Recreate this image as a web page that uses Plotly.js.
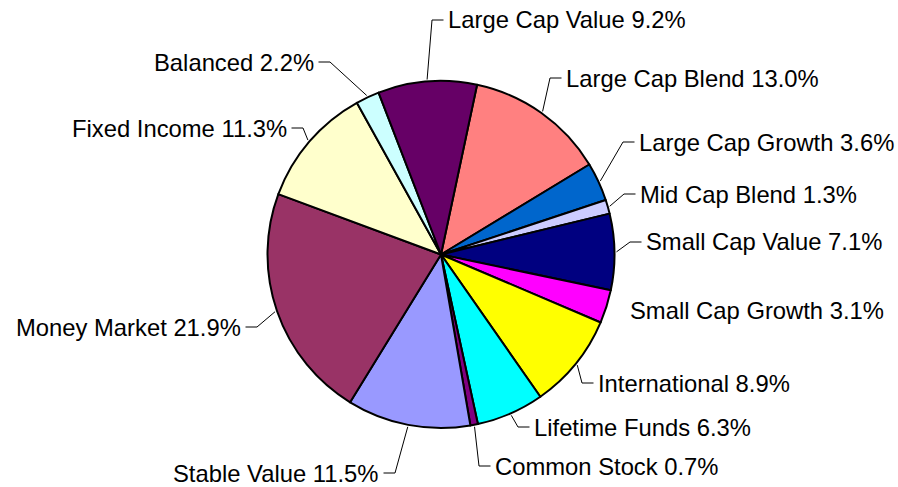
<!DOCTYPE html>
<html><head><meta charset="utf-8">
<script src="https://cdn.plot.ly/plotly-3.0.1.min.js"></script>
<style>html,body{margin:0;padding:0;background:#fff}#chart{width:898px;height:487px}</style>
</head><body><div id="chart"></div>
<script>
const categories = ['Large Cap Blend','Large Cap Growth','Mid Cap Blend','Small Cap Value','Small Cap Growth','International','Lifetime Funds','Common Stock','Stable Value','Money Market','Fixed Income','Balanced','Large Cap Value'];
const percents = [13.0,3.6,1.3,7.1,3.1,8.9,6.3,0.7,11.5,21.9,11.3,2.2,9.2];
const colors = ['#FF8080','#0066CC','#CCCCFF','#000080','#FF00FF','#FFFF00','#00FFFF','#800080','#9999FF','#993366','#FFFFCC','#CCFFFF','#660066'];
// label anchor positions in px (text start on right side, text end on left side)
const labelPos = [[565,78],[638,142],[639,194],[645,242],[629,310],[597,383],[533,427],[494,466],[380,473],[242,327],[288,128],[315,62],[447,20]];
const showLeader = [true,true,true,true,false,true,true,true,true,true,true,true,true];

const W = 898, H = 487;
const CX = 441, CY = 254.5, R = 173.5, ROT = 12;
const FONT = 'Liberation Sans, Arial, sans-serif';
const FS = 23.8;

const px2x = p => p / W;
const px2y = p => 1 - p / H;

const total = percents.reduce((a, b) => a + b, 0);
const shapes = [];
const annotations = [];
let cum = 0;
percents.forEach((v, i) => {
  const mid = (ROT + (cum + v / 2) / total * 360) * Math.PI / 180;
  cum += v;
  const ex = CX + (R + 2) * Math.sin(mid);
  const ey = CY - (R + 2) * Math.cos(mid);
  const [tx, ty] = labelPos[i];
  const right = tx > CX;
  const elbowX = right ? tx - 15 : tx + 15;
  const endX = right ? tx - 3.5 : tx + 3.5;
  if (showLeader[i]) {
    shapes.push({type: 'line', xref: 'paper', yref: 'paper',
      x0: px2x(ex), y0: px2y(ey), x1: px2x(elbowX), y1: px2y(ty),
      line: {color: '#000', width: 1}});
    shapes.push({type: 'line', xref: 'paper', yref: 'paper',
      x0: px2x(elbowX), y0: px2y(ty), x1: px2x(endX), y1: px2y(ty),
      line: {color: '#000', width: 1}});
  }
  annotations.push({xref: 'paper', yref: 'paper', x: px2x(tx), y: px2y(ty),
    xanchor: right ? 'left' : 'right', yanchor: 'middle', showarrow: false,
    text: categories[i] + ' ' + v.toFixed(1) + '%',
    font: {family: FONT, size: FS, color: '#000'}, borderpad: 0});
});

const trace = {
  type: 'pie', labels: categories, values: percents, sort: false,
  direction: 'clockwise', rotation: ROT, textinfo: 'none', hoverinfo: 'none',
  marker: {colors: colors, line: {color: '#000', width: 2}},
  domain: {x: [px2x(CX - R), px2x(CX + R)], y: [px2y(CY + R), px2y(CY - R)]},
  showlegend: false
};

Plotly.newPlot('chart', [trace], {
  width: W, height: H, margin: {l: 0, r: 0, t: 0, b: 0},
  paper_bgcolor: '#fff', plot_bgcolor: '#fff', showlegend: false,
  shapes: shapes, annotations: annotations,
  font: {family: FONT}
}, {displayModeBar: false, staticPlot: true});
</script></body></html>
